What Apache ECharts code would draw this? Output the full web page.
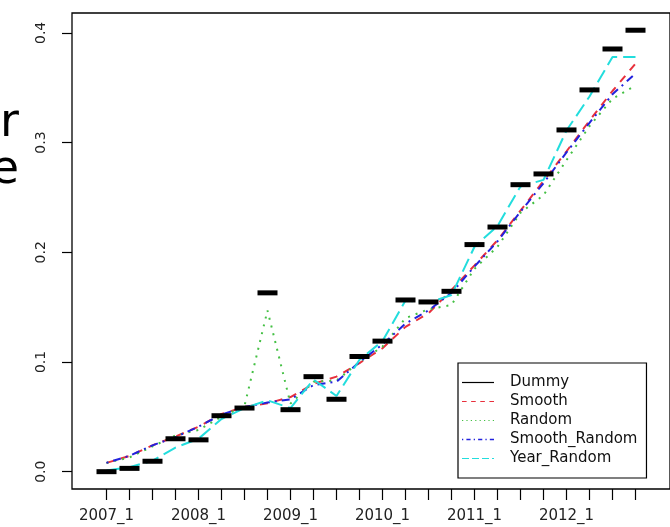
<!DOCTYPE html>
<html>
<head>
<meta charset="utf-8">
<script src="https://cdn.jsdelivr.net/npm/echarts@6/dist/echarts.min.js"></script>
<style>
  html, body { margin: 0; padding: 0; background: #fff; }
  #chart { width: 670px; height: 527px; }
</style>
</head>
<body>
<div id="chart"></div>
<script>
const quarters = [
  '2007_1', '2007_2', '2007_3', '2007_4',
  '2008_1', '2008_2', '2008_3', '2008_4',
  '2009_1', '2009_2', '2009_3', '2009_4',
  '2010_1', '2010_2', '2010_3', '2010_4',
  '2011_1', '2011_2', '2011_3', '2011_4',
  '2012_1', '2012_2', '2012_3', '2012_4'
];
const labelIdx = [0, 4, 8, 12, 16, 20];
const yTicks = [0, 0.1, 0.2, 0.3, 0.4];

const dummy = [0.000, 0.003, 0.0095, 0.030, 0.029, 0.051, 0.058, 0.163, 0.0565, 0.0866, 0.066, 0.105,
  0.119, 0.1565, 0.1547, 0.1644, 0.207, 0.223, 0.2616, 0.2714, 0.3115, 0.348, 0.3853, 0.4024];
const smooth = [0.008, 0.0143, 0.024, 0.032, 0.041, 0.0526, 0.059, 0.0623, 0.068, 0.080, 0.0866, 0.099,
  0.1125, 0.132, 0.1445, 0.1656, 0.188, 0.211, 0.238, 0.265, 0.292, 0.320, 0.347, 0.372];
const random = [0.008, 0.013, 0.023, 0.033, 0.038, 0.050, 0.060, 0.147, 0.062, 0.082, 0.083, 0.100,
  0.114, 0.140, 0.148, 0.152, 0.185, 0.205, 0.236, 0.252, 0.284, 0.315, 0.340, 0.352];
const smoothRandom = [0.008, 0.0145, 0.024, 0.0315, 0.041, 0.052, 0.059, 0.063, 0.066, 0.079, 0.082, 0.100,
  0.116, 0.135, 0.147, 0.163, 0.187, 0.210, 0.237, 0.263, 0.291, 0.318, 0.344, 0.363];
const yearRandom = [0.001, 0.004, 0.010, 0.022, 0.030, 0.048, 0.058, 0.065, 0.058, 0.084, 0.069, 0.102,
  0.119, 0.156, 0.154, 0.161, 0.205, 0.224, 0.260, 0.266, 0.311, 0.342, 0.378, 0.378];

const pts = (arr) => arr.map((v, i) => [i, v]);
const font = 'DejaVu Sans';

const lineSeries = (name, data, color, dash) => ({
  name,
  type: 'line',
  data: pts(data),
  symbol: 'none',
  lineStyle: { color, width: 2, type: dash, cap: 'butt' },
  itemStyle: { color }
});

// legend icon: a 32px long, thin dashed line as a filled path
const dashIcon = (pattern) => {
  const total = 32, h = 1.2;
  let x = 0, k = 0, d = '';
  while (x < total) {
    const len = pattern[k % pattern.length];
    if (k % 2 === 0) {
      const w = Math.min(len, total - x);
      d += `M${x},0h${w}v${h}h-${w}z`;
    }
    x += len;
    k++;
  }
  return 'path://' + d;
};

const chart = echarts.init(document.getElementById('chart'), null, { renderer: 'canvas' });

chart.setOption({
  animation: false,
  backgroundColor: '#fff',
  grid: {
    left: 72,
    top: 13,
    width: 609,
    height: 476,
    show: true,
    borderColor: '#000',
    borderWidth: 1.3,
    backgroundColor: 'transparent'
  },
  xAxis: {
    type: 'value',
    min: -1.5,
    max: 24.5,
    axisLine: { show: false, onZero: false },
    splitLine: { show: false },
    axisTick: {
      show: true,
      length: 11,
      customValues: quarters.map((_, i) => i),
      lineStyle: { color: '#000', width: 1.2 }
    },
    axisLabel: {
      customValues: labelIdx,
      formatter: (v) => quarters[v],
      margin: 20,
      fontSize: 15,
      fontFamily: font,
      color: '#222'
    }
  },
  yAxis: {
    type: 'value',
    min: -0.0158,
    max: 0.4181,
    axisLine: { show: false, onZero: false },
    splitLine: { show: false },
    axisTick: {
      show: true,
      length: 10,
      customValues: yTicks,
      lineStyle: { color: '#000', width: 1.2 }
    },
    axisLabel: {
      customValues: yTicks,
      formatter: (v) => v.toFixed(1),
      rotate: 90,
      margin: 24,
      fontSize: 14,
      fontFamily: font,
      color: '#222'
    }
  },
  legend: {
    orient: 'vertical',
    left: 458,
    top: 363,
    backgroundColor: '#fff',
    borderColor: '#000',
    borderWidth: 1.2,
    borderRadius: 0,
    padding: [12, 9, 12, 4],
    itemWidth: 32,
    itemHeight: 14,
    itemGap: 4,
    textStyle: { fontFamily: font, fontSize: 15, color: '#111', padding: [0, 0, 0, 11] },
    data: [
      { name: 'Dummy', icon: dashIcon([32, 0]) },
      { name: 'Smooth', icon: dashIcon([4.6, 4.5]) },
      { name: 'Random', icon: dashIcon([1.2, 3.2]) },
      { name: 'Smooth_Random', icon: dashIcon([1.2, 3, 4, 3]) },
      { name: 'Year_Random', icon: dashIcon([7, 3]) }
    ]
  },
  graphic: [
    { type: 'text', x: 19, y: 124, style: { text: 'r', font: '46px "DejaVu Sans"', align: 'right', verticalAlign: 'middle', fill: '#000' } },
    { type: 'text', x: 19, y: 171, style: { text: 'e', font: '46px "DejaVu Sans"', align: 'right', verticalAlign: 'middle', fill: '#000' } }
  ],
  series: [
    {
      name: 'Dummy',
      type: 'scatter',
      data: pts(dummy),
      symbol: 'rect',
      symbolSize: [20, 5],
      itemStyle: { color: '#000', opacity: 1 },
      z: 3
    },
    lineSeries('Smooth', smooth, '#E8303C', [8, 7]),
    lineSeries('Random', random, '#44C044', [2, 6]),
    lineSeries('Smooth_Random', smoothRandom, '#2222DD', [2, 5, 8, 5]),
    lineSeries('Year_Random', yearRandom, '#22DDDD', [14, 6])
  ]
});
</script>
</body>
</html>
